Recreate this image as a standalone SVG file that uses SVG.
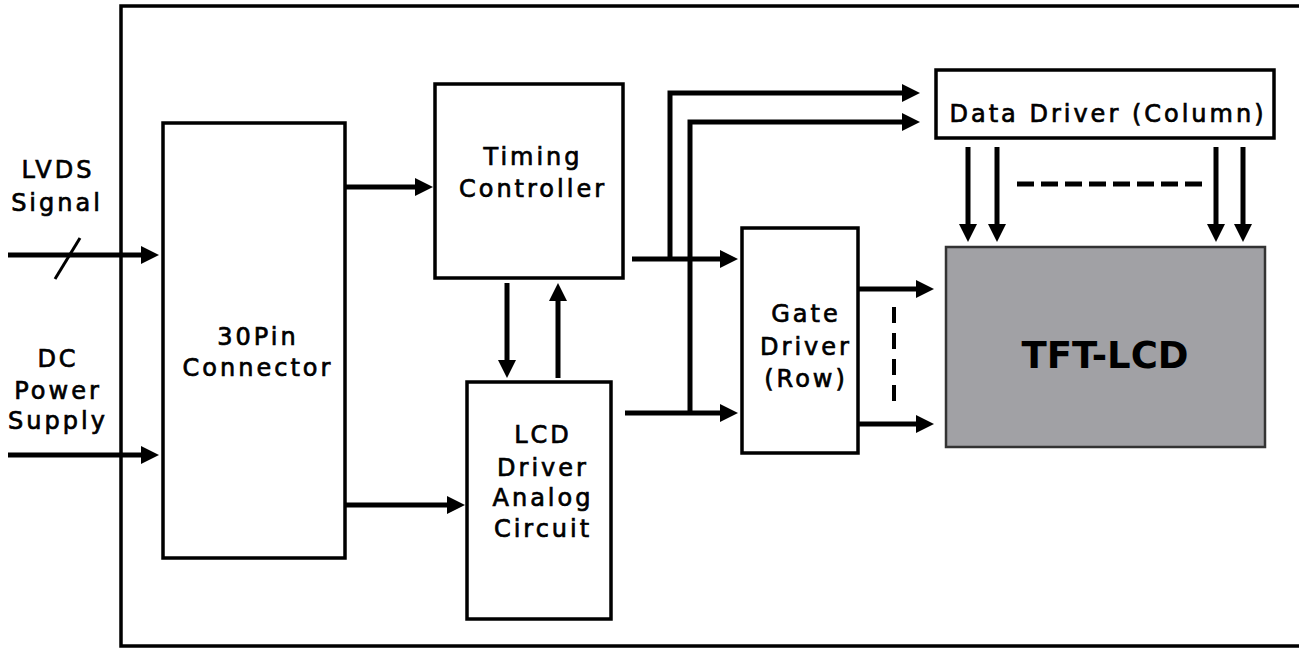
<svg xmlns="http://www.w3.org/2000/svg" width="1299" height="648" viewBox="0 0 1299 648">
<style>
.box{fill:#fff;stroke:#000;stroke-width:3.5}
.t{font-family:"DejaVu Sans",Verdana,sans-serif;font-size:24px;letter-spacing:3px;fill:#000;stroke:#000;stroke-width:0.7;text-anchor:middle}
.w{fill:none;stroke:#000;stroke-width:5}
.d{fill:none;stroke:#000;stroke-width:5;stroke-dasharray:17 7}
</style>
<defs>
<marker id="ah" markerUnits="userSpaceOnUse" markerWidth="18" markerHeight="18" refX="1" refY="9" orient="auto">
<path d="M0,0 L18,9 L0,18 z" fill="#000"/>
</marker>
</defs>
<rect x="121" y="6" width="1200" height="640" fill="none" stroke="#000" stroke-width="3.5"/>
<g id="labels">
<text class="t" x="58" y="178">LVDS</text>
<text class="t" x="57" y="211">Signal</text>
<text class="t" x="58" y="367">DC</text>
<text class="t" x="58" y="399">Power</text>
<text class="t" x="58" y="429">Supply</text>
</g>
<g id="connector30">
<rect class="box" x="163" y="123" width="182" height="435"/>
<text class="t" x="258" y="345">30Pin</text>
<text class="t" x="258" y="376">Connector</text>
</g>
<g id="timing">
<rect class="box" x="435" y="84" width="188" height="194"/>
<text class="t" x="533" y="165">Timing</text>
<text class="t" x="533" y="197">Controller</text>
</g>
<g id="lcddriver">
<rect class="box" x="467" y="382" width="144" height="237"/>
<text class="t" x="543" y="443">LCD</text>
<text class="t" x="543" y="476">Driver</text>
<text class="t" x="543" y="506">Analog</text>
<text class="t" x="543" y="537">Circuit</text>
</g>
<g id="gatedriver">
<rect class="box" x="742" y="228" width="116" height="225"/>
<text class="t" x="806" y="322">Gate</text>
<text class="t" x="806" y="355">Driver</text>
<text class="t" x="806" y="387">(Row)</text>
</g>
<g id="datadriver">
<rect class="box" x="936" y="70" width="338" height="68"/>
<text class="t" x="1108" y="122">Data Driver (Column)</text>
</g>
<g id="tftlcd">
<rect x="946" y="247" width="319" height="200" fill="#a1a1a5" stroke="#333" stroke-width="2.5"/>
<text x="1105" y="368" font-family="'DejaVu Sans',Verdana,sans-serif" font-size="37" font-weight="bold" text-anchor="middle" fill="#000">TFT-LCD</text>
</g>
<g id="connectors">
<line class="w" x1="8" y1="255" x2="142" y2="255" marker-end="url(#ah)"/>
<line x1="55" y1="279" x2="80" y2="238" stroke="#000" stroke-width="3"/>
<line class="w" x1="8" y1="455" x2="142" y2="455" marker-end="url(#ah)"/>
<line class="w" x1="345" y1="187" x2="416" y2="187" marker-end="url(#ah)"/>
<line class="w" x1="345" y1="505" x2="448" y2="505" marker-end="url(#ah)"/>
<line class="w" x1="507" y1="283" x2="507" y2="361" marker-end="url(#ah)"/>
<line class="w" x1="558" y1="378" x2="558" y2="300" marker-end="url(#ah)"/>
<line class="w" x1="632" y1="259" x2="721" y2="259" marker-end="url(#ah)"/>
<line class="w" x1="625" y1="413" x2="721" y2="413" marker-end="url(#ah)"/>
<polyline class="w" points="670,261 670,93 903,93" marker-end="url(#ah)"/>
<polyline class="w" points="690,413 690,122 903,122" marker-end="url(#ah)"/>
<line class="w" x1="968" y1="147" x2="968" y2="225" marker-end="url(#ah)"/>
<line class="w" x1="997" y1="147" x2="997" y2="225" marker-end="url(#ah)"/>
<line class="w" x1="1216" y1="147" x2="1216" y2="225" marker-end="url(#ah)"/>
<line class="w" x1="1243" y1="147" x2="1243" y2="225" marker-end="url(#ah)"/>
<line class="d" x1="1017" y1="184" x2="1202" y2="184"/>
<line class="w" x1="859" y1="289" x2="917" y2="289" marker-end="url(#ah)"/>
<line class="w" x1="859" y1="424" x2="917" y2="424" marker-end="url(#ah)"/>
<line x1="894" y1="307" x2="894" y2="403" stroke="#000" stroke-width="4" stroke-dasharray="16 10"/>
</g>
</svg>
